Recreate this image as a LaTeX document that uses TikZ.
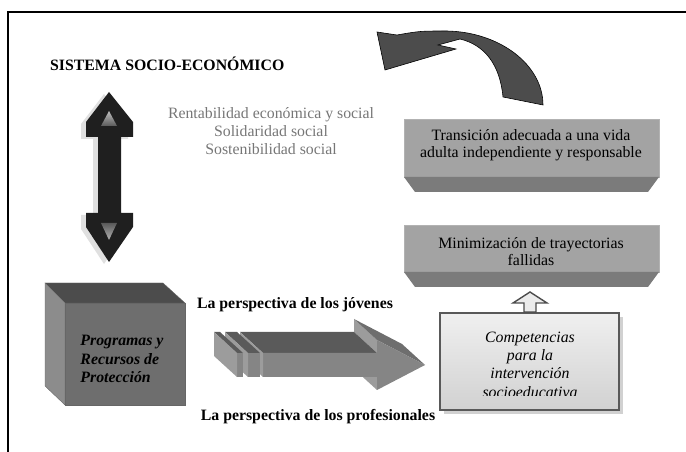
\documentclass[tikz,border=0pt]{standalone}
\usepackage{fontspec}
\setmainfont{Liberation Serif}
\usepackage{xcolor}
\definecolor{topface}{HTML}{5A5A5A}
\definecolor{frontface}{HTML}{858585}
\definecolor{endface}{HTML}{9C9C9C}
\definecolor{slantface}{HTML}{6E6E6E}
\definecolor{boxface}{HTML}{A3A3A3}
\definecolor{boxbevel}{HTML}{7B7B7B}
\definecolor{greytext}{HTML}{767676}
\tikzset{
  lbl/.style={font=\fontsize{13.5}{15.5}\selectfont},
  boldlbl/.style={font=\fontsize{13.5}{15.5}\selectfont\bfseries},
  cubeface/.style={draw=black!60, line width=0.3pt},
}

\begin{document}
\begin{tikzpicture}[x=0.03cm,y=-0.03cm]
\useasboundingbox (0,0) rectangle (686,452);
\draw[line width=1.3pt] (8,452) -- (8,12) -- (686,12);

\node[boldlbl, anchor=base west] (sistema) at (46,71) {SISTEMA SOCIO-ECONÓMICO};

\foreach \dx/\dy/\col in {-5/2/black!12, 0/0/black!88}
  \fill[\col, shift={(\dx,\dy)}] (109,92) -- (133,122) -- (133,137) -- (121,137)
     -- (121,213) -- (133,213) -- (133,227) -- (109,262) -- (86,227) -- (86,213)
     -- (98,213) -- (98,137) -- (86,137) -- (86,122) -- cycle;
\shade[top color=black!25, bottom color=black!65] (109,111) -- (117,126) -- (101,126) -- cycle;
\shade[top color=black!65, bottom color=black!30] (101,223) -- (117,223) -- (109,240) -- cycle;

\node[lbl, text=greytext, align=center, font=\fontsize{13.5}{15.3}\selectfont] (valores) at (271,131)
  {Rentabilidad económica y social\\Solidaridad social\\Sostenibilidad social};

\fill[black!70, draw=black, line width=0.5pt] (377,32) -- (397,35) .. controls (420,31) .. (447,31)
  .. controls (500,32) and (543,65) .. (543,105) -- (503,97)
  .. controls (500,65) and (485,45) .. (460,39) -- (438,45) -- (456,49) -- (385,70) -- cycle;

\foreach \t/\b in {119/177, 225/272} {
  \fill[boxface, draw=black!30, line width=0.4pt] (404,\t) rectangle (659,\b);
  \fill[boxbevel] (404,\b) -- (659,\b) -- (648,{\b+15}) -- (415,{\b+15}) -- cycle;
}
\node[lbl, align=center, font=\fontsize{13.5}{14.3}\selectfont] (transicion) at (531,145)
  {Transición adecuada a una vida\\adulta independiente y responsable};
\node[lbl, align=center, font=\fontsize{13.5}{14.5}\selectfont] (minimizacion) at (531,251.5)
  {Minimización de trayectorias\\fallidas};

\fill[cubeface, fill=black!70] (45,283) -- (163,283) -- (185,303) -- (65,303) -- cycle;
\fill[cubeface, fill=black!45] (45,283) -- (65,303) -- (65,405) -- (45,386) -- cycle;
\fill[cubeface, fill=black!57] (65,303) rectangle (185,405);
\node[font=\fontsize{13.5}{15.7}\selectfont\bfseries\itshape, align=left] (programas) at (122,359)
  {Programas y\\Recursos de\\Protección};

\node[boldlbl] (jovenes) at (295,305) {La perspectiva de los jóvenes};
\node[boldlbl] (profesionales) at (318,417) {La perspectiva de los profesionales};

\fill[endface] (377,377) -- (377,390) -- (354,369) -- (354,356) -- cycle;
\fill[endface] (377,340) -- (377,353) -- (354,332) -- (354,319) -- cycle;
\fill[slantface] (377,340) -- (425,365) -- (402,344) -- (354,319) -- cycle;
\fill[topface] (263,353) -- (377,353) -- (354,332) -- (240,332) -- cycle;
\fill[frontface] (263,353) -- (377,353) -- (377,340) -- (425,365) -- (377,390) -- (377,377) -- (263,377) -- cycle;
\fill[endface] (263,353) -- (263,377) -- (240,356) -- (240,332) -- cycle;
\foreach \a/\b in {248/260, 237/243} {
  \fill[topface] (\a,353) -- (\b,353) -- ({\b-23},332) -- ({\a-23},332) -- cycle;
  \fill[frontface] (\a,353) rectangle (\b,377);
  \fill[endface] (\a,353) -- (\a,377) -- ({\a-23},356) -- ({\a-23},332) -- cycle;
}

\fill[black!18] (444,317) rectangle (623,414);
\shade[top color=black!6, bottom color=black!18, draw=black!65, line width=2.4pt] (440,313) rectangle (619,410);
\begin{scope}
  \clip (442,315) rectangle (617,396);
  \node[font=\fontsize{13.5}{15.6}\selectfont\itshape, align=center] (competencias) at (530,364.5)
    {Competencias\\para la\\intervención\\socioeducativa};
\end{scope}

\filldraw[fill=black!8, draw=black!70, line width=1.2pt] (530,292) -- (547,303) -- (536,303) -- (536,312)
  -- (524,312) -- (524,303) -- (513,303) -- cycle;
\end{tikzpicture}
\end{document}
